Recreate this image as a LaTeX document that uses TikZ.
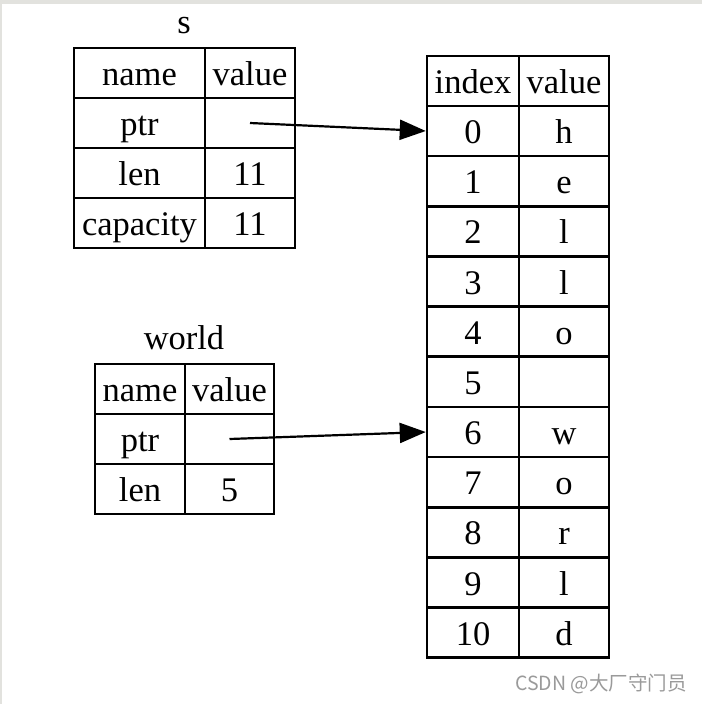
\documentclass[tikz,border=0pt]{standalone}
\usepackage{fontspec}
\setmainfont{Liberation Serif}
\newfontfamily\cjkfont{Noto Sans CJK SC}
\usetikzlibrary{arrows.meta}
\definecolor{bandgray}{HTML}{E2E2DE}
\definecolor{wmgray}{HTML}{9A9A9A}
\tikzset{
  cell/.style={draw, line width=2.5pt, inner sep=0pt, minimum height=50pt, text height=30pt, text depth=5pt, font=\fontsize{34.5}{38}\selectfont},
  ttl/.style={inner sep=0pt, anchor=base, font=\fontsize{34.5}{38}\selectfont},
  ptrarrow/.style={line width=2.2pt, -{Triangle[length=26pt,width=20pt]}, shorten >=0pt}
}
\begin{document}
\begin{tikzpicture}[x=1pt,y=-1pt]
\useasboundingbox (0,0) rectangle (702,704);
\fill[white] (0,0) rectangle (702,704);
\fill[bandgray] (0,0) rectangle (702,4);
\fill[bandgray] (0,0) rectangle (1.5,704);

% table s
\node[ttl] (s-title) at (184,33) {s};
\node[cell, minimum width=131pt] (s-h-n) at (139.5,73) {name};
\node[cell, minimum width=90pt] (s-h-v) at (250,73) {value};
\node[cell, minimum width=131pt] (s-ptr-n) at (139.5,123) {ptr};
\node[cell, minimum width=90pt] (s-ptr-v) at (250,123) {};
\node[cell, minimum width=131pt] (s-len-n) at (139.5,173) {len};
\node[cell, minimum width=90pt] (s-len-v) at (250,173) {11};
\node[cell, minimum width=131pt] (s-cap-n) at (139.5,223) {capacity};
\node[cell, minimum width=90pt] (s-cap-v) at (250,223) {11};

% table world
\node[ttl] (w-title) at (184,349) {world};
\node[cell, minimum width=90pt] (w-h-n) at (140,389) {name};
\node[cell, minimum width=89pt] (w-h-v) at (229.5,389) {value};
\node[cell, minimum width=90pt] (w-ptr-n) at (140,439) {ptr};
\node[cell, minimum width=89pt] (w-ptr-v) at (229.5,439) {};
\node[cell, minimum width=90pt] (w-len-n) at (140,489) {len};
\node[cell, minimum width=89pt] (w-len-v) at (229.5,489) {5};

% array table
\node[cell, minimum width=92pt] (r-h-i) at (473,81) {index};
\node[cell, minimum width=90pt] (r-h-v) at (564,81) {value};
\foreach \i/\c in {0/h,1/e,2/l,3/l,4/o,5/{},6/w,7/o,8/r,9/l,10/d} {
  \node[cell, minimum width=92pt] (r\i-i) at (473,{131+50.17*\i}) {\i};
  \node[cell, minimum width=90pt] (r\i-v) at (564,{131+50.17*\i}) {\c};
}

% pointers
\draw[ptrarrow] (s-ptr-v.center) -- (r0-i.west);
\draw[ptrarrow] (w-ptr-v.center) -- (r6-i.west);

% watermark
\node[inner sep=0pt, text=wmgray, font=\cjkfont\fontsize{19.5}{22}\selectfont, anchor=east] (wm) at (687,684) {CSDN @大厂守门员};
\end{tikzpicture}
\end{document}
